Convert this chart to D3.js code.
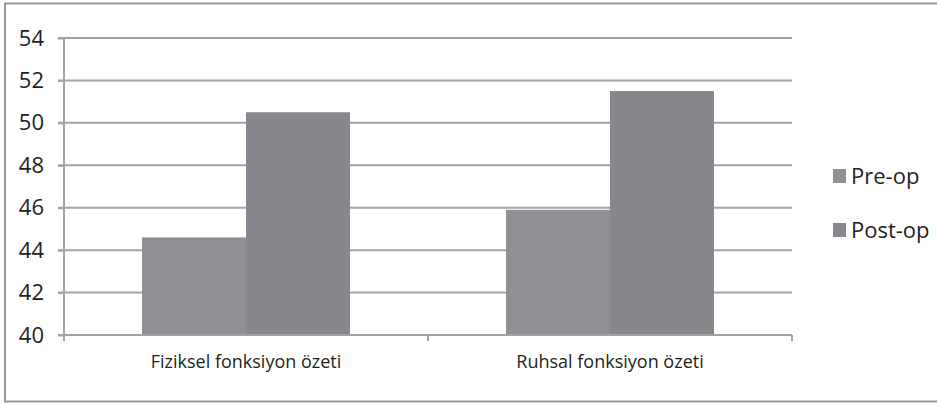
<!DOCTYPE html>
<html><head><meta charset="utf-8">
<script src="https://cdn.jsdelivr.net/npm/d3@7"></script>
<style>body{margin:0;background:#fff}svg{display:block}</style>
</head><body>
<script>
const categories = ["Fiziksel fonksiyon özeti", "Ruhsal fonksiyon özeti"];
const seriesNames = ["Pre-op", "Post-op"];
const preOp = [44.6, 45.9];
const postOp = [50.5, 51.5];
const yTicks = [40, 42, 44, 46, 48, 50, 52, 54];
const colors = ["#8f9094", "#87888c"];

(function () {
const W = 937, H = 405;
const svg = d3.select("body").append("svg").attr("width", W).attr("height", H);
svg.append("rect").attr("x", 5).attr("y", 3.5).attr("width", 945).attr("height", 398)
  .attr("fill", "#fff").attr("stroke", "#999999").attr("stroke-width", 2);

const pl = 64, pr = 792, pt = 38, pb = 335;
const y = d3.scaleLinear().domain([40, 54]).range([pb, pt]);
const x0 = d3.scaleBand().domain(categories).range([pl, pr]).padding(0);
const x1 = d3.scaleBand().domain(seriesNames).range([0, x0.bandwidth()]).paddingInner(0).paddingOuter(0.75);

const textCol = "#231f20", gridCol = "#a3a3a5";
const font = "'Open Sans', sans-serif";

svg.append("g").selectAll("line").data(yTicks.filter(d => d !== 40)).join("line")
  .attr("x1", pl - 6).attr("x2", pr).attr("y1", d => y(d)).attr("y2", d => y(d))
  .attr("stroke", gridCol).attr("stroke-width", 2);

const data = categories.map((c, i) => ({c, vals: [preOp[i], postOp[i]]}));
const g = svg.append("g").selectAll("g").data(data).join("g")
  .attr("transform", d => `translate(${x0(d.c)},0)`);
g.selectAll("rect").data(d => d.vals.map((v, j) => ({s: seriesNames[j], v, j}))).join("rect")
  .attr("x", d => x1(d.s)).attr("width", x1.bandwidth())
  .attr("y", d => y(d.v)).attr("height", d => y(40) - y(d.v))
  .attr("fill", d => colors[d.j]);

const yAxis = svg.append("g").attr("transform", `translate(${pl},0)`)
  .call(d3.axisLeft(y).tickValues(yTicks).tickSize(6).tickPadding(14).tickFormat(d3.format("d")));
yAxis.select(".domain").remove();
yAxis.selectAll(".tick line").attr("stroke", gridCol).attr("stroke-width", 2);
yAxis.selectAll("text").attr("fill", textCol).style("font-family", font).style("font-size", "22px");
svg.append("line").attr("x1", pl).attr("x2", pl).attr("y1", pt).attr("y2", pb + 6)
  .attr("stroke", gridCol).attr("stroke-width", 2);

svg.append("line").attr("x1", pl - 6).attr("x2", pr).attr("y1", pb).attr("y2", pb)
  .attr("stroke", gridCol).attr("stroke-width", 2);
const xAxis = svg.append("g").attr("transform", `translate(0,${pb})`)
  .call(d3.axisBottom(x0).tickSize(0).tickPadding(20));
xAxis.select(".domain").remove();
xAxis.selectAll("text").attr("fill", textCol).style("font-family", font).style("font-size", "18px");
const bounds = [pl + x0.bandwidth(), pr];
svg.append("g").selectAll("line").data(bounds).join("line")
  .attr("x1", d => d).attr("x2", d => d).attr("y1", pb).attr("y2", pb + 6)
  .attr("stroke", gridCol).attr("stroke-width", 2);

const leg = svg.append("g").selectAll("g").data(seriesNames).join("g")
  .attr("transform", (d, i) => `translate(833,${176 + i * 54})`);
leg.append("rect").attr("x", 0).attr("y", -7).attr("width", 13).attr("height", 14)
  .attr("fill", (d, i) => colors[i]);
leg.append("text").attr("x", 18).attr("dy", "0.35em").text(d => d)
  .attr("fill", textCol).style("font-family", font).style("font-size", "22px");
})();
</script>
</body></html>
